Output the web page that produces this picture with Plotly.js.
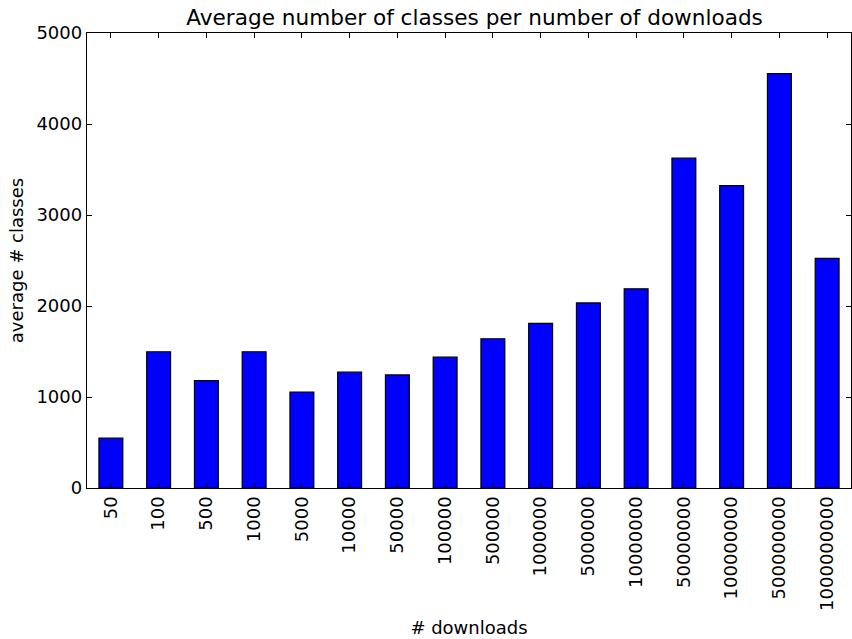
<!DOCTYPE html>
<html>
<head>
<meta charset="utf-8">
<script src="https://cdn.plot.ly/plotly-3.0.1.min.js"></script>
<style>html,body{margin:0;padding:0;background:#fff;}#chart{width:852px;height:639px;}</style>
</head>
<body>
<div id="chart"></div>
<script>
const downloads = ["50","100","500","1000","5000","10000","50000","100000","500000","1000000","5000000","10000000","50000000","100000000","500000000","1000000000"];
const avgClasses = [547,1497,1181,1497,1055,1273,1243,1438,1640,1810,2034,2189,3624,3322,4554,2523];
const yTicks = [0,1000,2000,3000,4000,5000];

const font = "DejaVu Sans, sans-serif";
Plotly.newPlot('chart', [{
  type: 'bar',
  x: downloads,
  y: avgClasses,
  width: 0.5,
  marker: {color: '#0000ff', line: {color: '#000000', width: 1.2}},
  hoverinfo: 'x+y'
}], {
  width: 852, height: 639,
  margin: {l: 87, r: 1, t: 33, b: 151},
  paper_bgcolor: '#ffffff', plot_bgcolor: '#ffffff',
  font: {family: font, size: 18, color: '#000'},
  title: {text: 'Average number of classes per number of downloads', font: {family: font, size: 21.6, color: '#000'}, x: 0.557, xanchor: 'center', y: 0.973, yanchor: 'middle'},
  xaxis: {
    type: 'category',
    range: [-0.5, 15.5],
    tickangle: -90,
    ticks: 'inside', ticklen: 5, tickcolor: '#000',
    showline: true, linecolor: '#000', linewidth: 1.2, mirror: 'ticks',
    showgrid: false, zeroline: false,
    tickfont: {family: font, size: 18, color: '#000'},
    title: {text: '# downloads', font: {family: font, size: 18, color: '#000'}, standoff: 11}
  },
  yaxis: {
    range: [0, 5000],
    tickvals: yTicks,
    ticktext: yTicks.map(String),
    ticks: 'inside', ticklen: 5, tickcolor: '#000',
    showline: true, linecolor: '#000', linewidth: 1.2, mirror: 'ticks',
    showgrid: false, zeroline: false,
    tickfont: {family: font, size: 18, color: '#000'},
    title: {text: 'average # classes', font: {family: font, size: 18, color: '#000'}, standoff: 8}
  },
  showlegend: false,
  bargap: 0.5
}, {displayModeBar: false, staticPlot: true});
</script>
</body>
</html>
